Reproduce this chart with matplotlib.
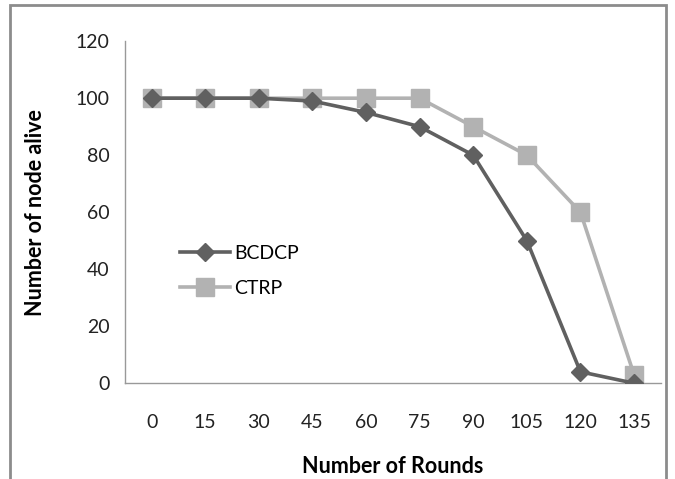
import matplotlib.pyplot as plt
from matplotlib.patches import Rectangle

rounds = ["0", "15", "30", "45", "60", "75", "90", "105", "120", "135"]
bcdcp = [100, 100, 100, 99, 95, 90, 80, 50, 4, 0]
ctrp = [100, 100, 100, 100, 100, 100, 90, 80, 60, 3]

plt.rcParams['font.family'] = ['Lato', 'DejaVu Sans']

fig = plt.figure(figsize=(6.75, 4.79), dpi=100)
ax = fig.add_axes([0.185, 0.2, 0.794, 0.714])

# outer chart frame (bottom edge runs off the picture)
fig.patches.append(Rectangle((10 / 675, -0.05), 656 / 675, 1 - 5 / 479 + 0.05,
                             transform=fig.transFigure, fill=False,
                             edgecolor='#8c8c8c', linewidth=2))

x = range(len(rounds))
ax.plot(x, ctrp, color='#b2b2b2', lw=2.6, marker='s', markersize=13,
        label='CTRP', zorder=2)
ax.plot(x, bcdcp, color='#606060', lw=2.6, marker='D', markersize=9,
        label='BCDCP', zorder=3)

ax.set_xlim(-0.5, len(rounds) - 0.5)
ax.set_ylim(0, 120)
ax.set_xticks(list(x))
ax.set_xticklabels(rounds)
ax.set_yticks(range(0, 121, 20))
ax.tick_params(length=0, labelsize=14, colors='#222222', pad=11)
ax.tick_params(axis='x', pad=22)

for s in ['top', 'right']:
    ax.spines[s].set_visible(False)
for s in ['left', 'bottom']:
    ax.spines[s].set_color('#999999')
    ax.spines[s].set_linewidth(1)

ax.set_xlabel('Number of Rounds', fontsize=15.5, fontweight='bold', labelpad=18)
ax.set_ylabel('Number of node alive', fontsize=15.5, fontweight='bold', labelpad=21)

h, l = ax.get_legend_handles_labels()
ax.legend(h[::-1], l[::-1], loc='upper left', bbox_to_anchor=(0.07, 0.455),
          frameon=False, fontsize=14, handlelength=2.6, handletextpad=0.2,
          labelspacing=0.9)

fig.savefig('out.png')
